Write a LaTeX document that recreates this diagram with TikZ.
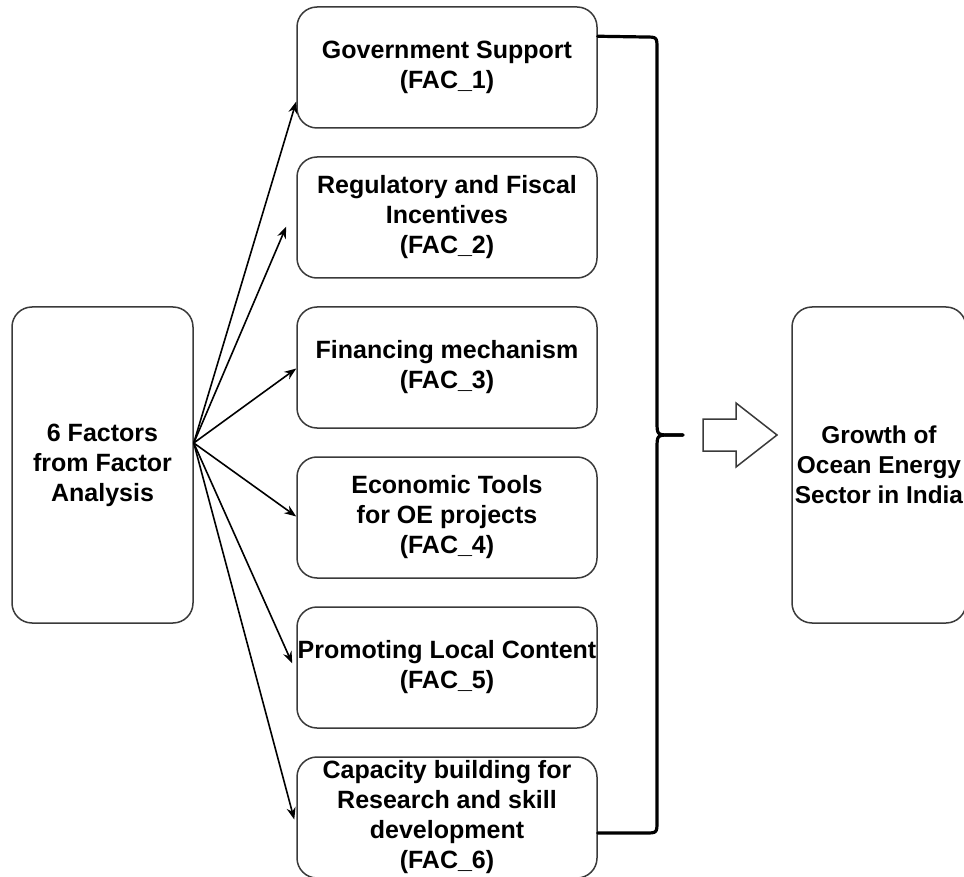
\documentclass[tikz,border=0pt]{standalone}
\usepackage{fontspec}
\setmainfont{Liberation Sans}
\usetikzlibrary{arrows.meta}
\definecolor{boxline}{HTML}{3A3A3A}
\begin{document}
\begin{tikzpicture}[x=1pt,y=-1pt,
  fbox/.style={draw=boxline,line width=1.5pt,rounded corners=20pt,fill=white,
    minimum width=300pt,minimum height=121pt,align=center,inner sep=0pt,
    font=\fontsize{25}{30}\selectfont\bfseries},
  sidebox/.style={fbox,minimum width=181pt,minimum height=316pt},
  conn/.style={line width=1.6pt,-{Stealth[length=12pt,width=9pt]}},
  bracestyle/.style={line width=3.2pt,line cap=round,line join=round},
  blockarrow/.style={draw=boxline,line width=1.5pt,fill=white,line join=miter}]
\useasboundingbox (0,0) rectangle (964,877);
\node[sidebox] (src) at (102.5,465) {6 Factors\\from Factor\\Analysis};
\node[sidebox,minimum width=174pt,font=\fontsize{24.4}{30}\selectfont\bfseries] (dst) at (879,465) {Growth of\\Ocean Energy\\Sector in India};
\node[fbox] (b1) at (447,67.5) {Government Support\\(FAC\_1)};
\node[fbox] (b2) at (447,217.5) {Regulatory and Fiscal\\Incentives\\(FAC\_2)};
\node[fbox] (b3) at (447,367.5) {Financing mechanism\\(FAC\_3)};
\node[fbox] (b4) at (447,517.5) {Economic Tools\\for OE projects\\(FAC\_4)};
\node[fbox] (b5) at (447,667.5) {Promoting Local Content\\(FAC\_5)};
\node[fbox] (b6) at (447,817.5) {Capacity building for\\Research and skill\\development\\(FAC\_6)};
\coordinate (o) at ([yshift=22pt]src.east);
\coordinate (t1) at ([yshift=-34pt]b1.west);
\coordinate (t2) at ([xshift=-10pt,yshift=-9pt]b2.west);
\coordinate (t3) at ([yshift=-1pt]b3.west);
\coordinate (t4) at ([yshift=1pt]b4.west);
\coordinate (t5) at ([xshift=-4pt,yshift=4pt]b5.west);
\coordinate (t6) at ([xshift=-2pt,yshift=-2pt]b6.west);
\foreach \t in {t1,t2,t3,t4,t5,t6} \draw[conn] (o) -- (\t);
% brace
\coordinate (bt) at ([yshift=-30pt]b1.north east);
\coordinate (bb) at ([yshift=-15.5pt]b6.east);
\coordinate (tip) at (683,435);
\draw[bracestyle] (bt) -- (645,37) .. controls (657,37) .. (657,49) -- (657,421)
  .. controls (657,435) .. (671,435) -- (tip);
\draw[bracestyle] (tip) -- (671,435) .. controls (657,435) .. (657,449) -- (657,821)
  .. controls (657,833) .. (645,833) -- (bb);
% block arrow
\draw[blockarrow] (703,419) -- (736,419) -- (736,403) -- (777,435) -- (736,467)
  -- (736,451) -- (703,451) -- cycle;
\end{tikzpicture}
\end{document}
